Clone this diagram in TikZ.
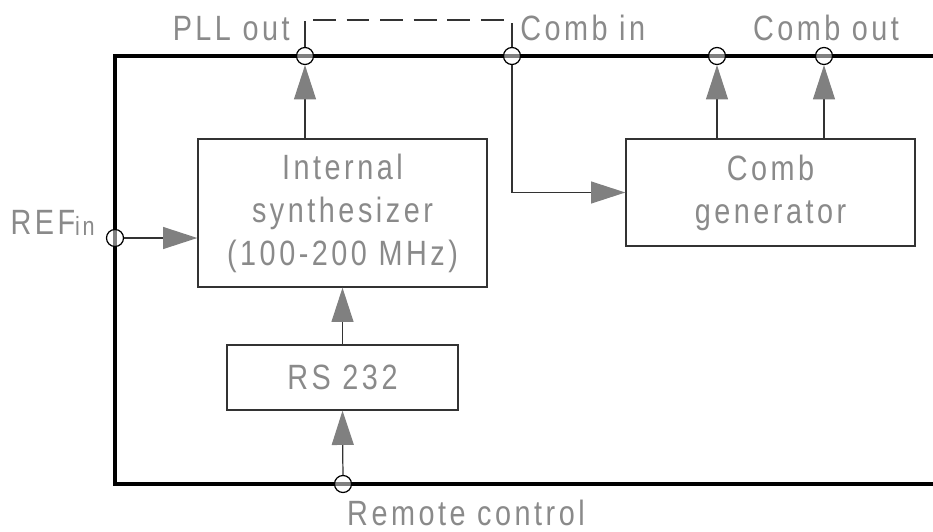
\documentclass[tikz,border=0pt]{standalone}
\usepackage{fontspec}
\usepackage{xcolor}
\usepackage{tikz}
\usetikzlibrary{arrows.meta}
\newfontfamily\lblfont[LetterSpace=10,FakeStretch=0.82]{Liberation Sans}
\definecolor{txtgray}{HTML}{8A8A8A}
\definecolor{tipgray}{HTML}{808080}
\definecolor{edgegray}{HTML}{333333}

\begin{document}
\begin{tikzpicture}[
    x=0.02cm,y=-0.02cm,
    font=\lblfont\fontsize{20pt}{24.5pt}\selectfont,
    block/.style={draw=edgegray,line width=0.8pt,text=txtgray,align=center,inner sep=0pt},
    port/.style={circle,draw=black,line width=0.7pt,fill=white,fill opacity=0.5,
        text opacity=1,inner sep=0pt,minimum size=0.34cm},
    label/.style={text=txtgray,inner sep=0pt},
    arr/.style={-{Triangle[length=19.5pt,width=12.5pt,color=tipgray]},
        draw=edgegray,line width=0.7pt},
    wire/.style={draw=edgegray,line width=0.9pt}
]
\useasboundingbox (0,0) rectangle (933,531);
% Housing, open to the right.
\draw[line width=2.6pt] (933,56) -| (115,484) -- (933,484);
% Blocks.
\node[block,minimum width=5.78cm,minimum height=2.96cm] (synth) at (342.5,213)
    {Internal\\synthesizer\\(100-200 MHz)};
\node[block,minimum width=5.78cm,minimum height=2.14cm] (combgen) at (770.5,192.5)
    {Comb\\generator};
\node[block,minimum width=4.62cm,minimum height=1.3cm] (rs) at (342.5,377.5)
    {RS 232};
% Ports on the housing.
\node[port] (pllout) at (305,56) {};
\node[port] (combin) at (512,56) {};
\node[port] (combouta) at (717,56) {};
\node[port] (comboutb) at (824,56) {};
\node[port] (refin) at (115,238) {};
\node[port] (remote) at (343,484) {};
% Port labels.
\node[label,anchor=base east] (pllname) at (290,40) {PLL out};
\node[label,anchor=base west] (combinname) at (520,40) {Comb in};
\node[label,anchor=base] (comboutname) at (826,40) {Comb out};
\node[label,anchor=base east] (refname) at (95,234)
    {REF\raisebox{-1pt}{\fontsize{15pt}{15pt}\selectfont in}};
\node[label,anchor=base] (remotename) at (466,525) {Remote control};
% External loop from PLL out to Comb in.
\coordinate (pllup) at (305,21);
\coordinate (combup) at (512,23);
\coordinate (dashl) at (313,20);
\coordinate (dashr) at (505,20);
\draw[wire] (pllout) -- (pllup);
\draw[wire] (combin) -- (combup);
\draw[draw=edgegray,line width=1.4pt,dash pattern=on 13pt off 6.1pt] (dashl) -- (dashr);
% Signal paths.
\draw[arr] (synth.north -| pllout) -- (pllout);
\draw[arr] (refin) -- (refin -| synth.west);
\draw[arr] (combin) |- (combgen.west);
\draw[arr] (combgen.north -| combouta) -- (combouta);
\draw[arr] (combgen.north -| comboutb) -- (comboutb);
\draw[arr] (rs.north) -- (synth.south);
\draw[arr] (remote) -- (rs.south);
\end{tikzpicture}
\end{document}
